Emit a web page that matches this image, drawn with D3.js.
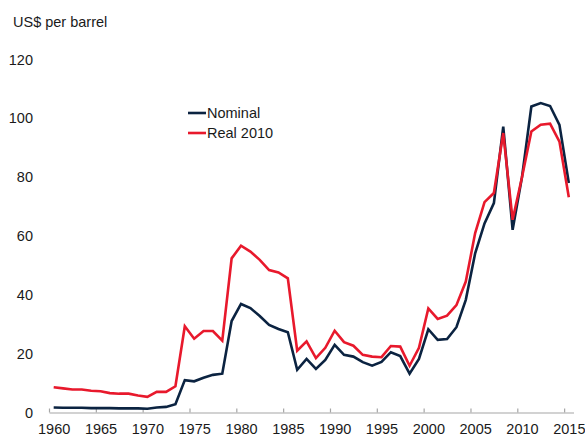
<!DOCTYPE html>
<html>
<head>
<meta charset="utf-8">
<script src="https://cdn.jsdelivr.net/npm/d3@7"></script>
<style>
  body { margin: 0; background: #fff; }
  svg text { font-family: "Liberation Sans Narrow", "Arial Narrow", "Liberation Sans", Arial, sans-serif; fill: #1a1a1a; }
</style>
</head>
<body>
<div id="chart"></div>
<script>
// Anos e preços (US$ por barril)
var years = d3.range(1960, 2016)

var nominal = [1.7, 1.6, 1.6, 1.6, 1.5, 1.5, 1.5, 1.4, 1.4, 1.4, 1.3, 1.7, 1.9, 2.8,
  11.0, 10.6, 11.8, 12.8, 13.2, 31.1, 36.9, 35.5, 32.8, 29.8, 28.4, 27.3,
  14.5, 18.2, 14.8, 17.9, 23.0, 19.6, 19.0, 17.1, 15.9, 17.2, 20.5, 19.2,
  13.2, 18.2, 28.3, 24.7, 25.0, 29.0, 38.3, 54.1, 64.3, 71.2, 97.2, 62.1,
  80.0, 104.0, 105.2, 104.2, 97.8, 78.0]

var real2010 = [8.6, 8.2, 7.8, 7.8, 7.4, 7.2, 6.6, 6.4, 6.4, 5.8, 5.3, 7.0, 7.0, 8.9,
  29.3, 25.1, 27.7, 27.7, 24.4, 52.4, 56.7, 54.7, 51.9, 48.4, 47.6, 45.6,
  21.0, 24.2, 18.5, 22.0, 27.8, 23.9, 22.7, 19.6, 19.0, 18.8, 22.6, 22.4,
  15.9, 22.0, 35.4, 31.8, 32.9, 36.5, 44.5, 61.0, 71.5, 74.6, 95.0, 65.5,
  80.0, 95.5, 97.8, 98.2, 92.1, 73.2]

var yTicks = [0, 20, 40, 60, 80, 100, 120]
var xLabels = d3.range(1960, 2016, 5)

var series = [
  { name: "Nominal", values: nominal, color: "#0b2341" },
  { name: "Real 2010", values: real2010, color: "#e8192c" }
]

var width = 585, height = 440
var fontSize = 14.5

var svg = d3.select("#chart")
  .append("svg")
  .attr("width", width)
  .attr("height", height)

// Escalas
var x = d3.scaleLinear()
  .domain([1959.5, 2015.5])
  .range([49, 573.5])

var y = d3.scaleLinear()
  .domain([0, 120])
  .range([412.5, 59.5])

// Título do eixo
svg.append("text")
  .text("US$ per barrel")
  .attr("x", 13)
  .attr("y", 27)
  .attr("font-size", fontSize)

// Eixo Y (só os rótulos)
var yAxis = svg.append("g")
  .attr("transform", "translate(36,0)")
  .call(d3.axisLeft(y).tickValues(yTicks).tickSize(0).tickPadding(3))
yAxis.select(".domain").remove()
yAxis.selectAll("text").attr("font-size", fontSize).attr("font-family", null)

// Eixo X: marcas entre as categorias
var xTicks = svg.append("g")
  .attr("transform", "translate(0," + y(0) + ")")
  .call(d3.axisBottom(x)
    .tickValues(d3.range(1959.5, 2015, 5))
    .tickSizeInner(-4).tickSizeOuter(0)
    .tickFormat(""))
xTicks.select(".domain").attr("stroke", "#a6a6a6").attr("stroke-width", 1.2)
xTicks.selectAll(".tick line").attr("stroke", "#a6a6a6").attr("stroke-width", 1.2)

var xAxis = svg.append("g")
  .attr("transform", "translate(0," + y(0) + ")")
  .call(d3.axisBottom(x).tickValues(xLabels).tickSize(0).tickPadding(11).tickFormat(d3.format("d")))
xAxis.select(".domain").remove()
xAxis.selectAll("text").attr("font-size", fontSize).attr("font-family", null)

// Linhas
var line = d3.line()
  .x(function(d, i) { return x(years[i]) })
  .y(function(d) { return y(d) })

series.forEach(function(s) {
  svg.append("path")
    .datum(s.values)
    .attr("d", line)
    .attr("fill", "none")
    .attr("stroke", s.color)
    .attr("stroke-width", 2.6)
    .attr("stroke-linejoin", "miter")
})

// Legenda
var legend = svg.selectAll(".legend")
  .data(series)
  .enter().append("g")
  .attr("class", "legend")
  .attr("transform", function(d, i) { return "translate(188," + (113 + i * 20) + ")" })

legend.append("line")
  .attr("x1", 0).attr("x2", 18)
  .attr("stroke", function(d) { return d.color })
  .attr("stroke-width", 2.6)

legend.append("text")
  .text(function(d) { return d.name })
  .attr("x", 19)
  .attr("dy", "0.35em")
  .attr("font-size", fontSize)
</script>
</body>
</html>
